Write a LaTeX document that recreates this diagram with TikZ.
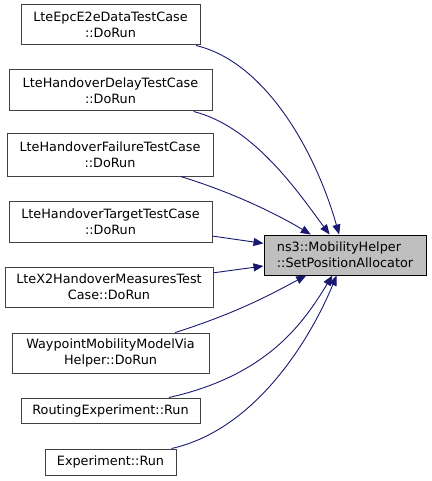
\documentclass[tikz,border=0pt]{standalone}
\usepackage{fontspec}
\setmainfont{DejaVu Sans}
\usetikzlibrary{arrows.meta}
\definecolor{edgeblue}{RGB}{25,25,112}
\definecolor{boxgrey}{RGB}{191,191,191}
\definecolor{framegrey}{RGB}{64,64,64}

\begin{document}
\begin{tikzpicture}[x=1pt, y=-1pt,
    caller/.style={draw=framegrey, fill=white, line width=1pt,
                   align=center, inner sep=0pt, minimum height=40pt,
                   font=\fontsize{12.8}{16}\selectfont},
    callee/.style={caller, draw=black, fill=boxgrey, align=left},
    edge/.style={draw=edgeblue, line width=0.9pt,
                 -{Triangle[length=10pt,width=8pt]}}]
    \useasboundingbox (0,0) rectangle (431,481);

    % the function that is called
    \node[callee, minimum width=162pt] (main) at (345,255)
      {ns3::MobilityHelper\\::SetPositionAllocator};

    % callers
    \node[caller, minimum width=179pt] (e2e) at (110.5,25)
      {LteEpcE2eDataTestCase\\::DoRun};
    \node[caller, minimum width=203pt, minimum height=41pt] (delay) at (110.5,90.5)
      {LteHandoverDelayTestCase\\::DoRun};
    \node[caller, minimum width=206pt, minimum height=42pt] (failure) at (110,155)
      {LteHandoverFailureTestCase\\::DoRun};
    \node[caller, minimum width=203pt, minimum height=41pt] (target) at (110.5,221.5)
      {LteHandoverTargetTestCase\\::DoRun};
    \node[caller, minimum width=208pt] (x2) at (109,287)
      {LteX2HandoverMeasuresTest\\Case::DoRun};
    \node[caller, minimum width=197pt] (waypoint) at (110.5,353)
      {WaypointMobilityModelVia\\Helper::DoRun};
    \node[caller, minimum width=179pt, minimum height=25pt] (routing) at (110.5,410.5)
      {RoutingExperiment::Run};
    \node[caller, minimum width=131pt, minimum height=26pt] (experiment) at (110.5,462)
      {Experiment::Run};

    % calls
    \draw[edge] (e2e) .. controls (265,62) and (315,150) .. (main);
    \draw[edge] (delay) .. controls (255,127) and (300,195) .. (main);
    \draw[edge] (failure) .. controls (225,190) and (270,210) .. (main);
    \draw[edge] (target) -- (main);
    \draw[edge] (x2) -- (main);
    \draw[edge] (waypoint) .. controls (240,312) and (275,292) .. (main);
    \draw[edge] (routing) .. controls (270,375) and (305,320) .. (main);
    \draw[edge] (experiment) .. controls (255,430) and (310,340) .. (main);
\end{tikzpicture}
\end{document}
